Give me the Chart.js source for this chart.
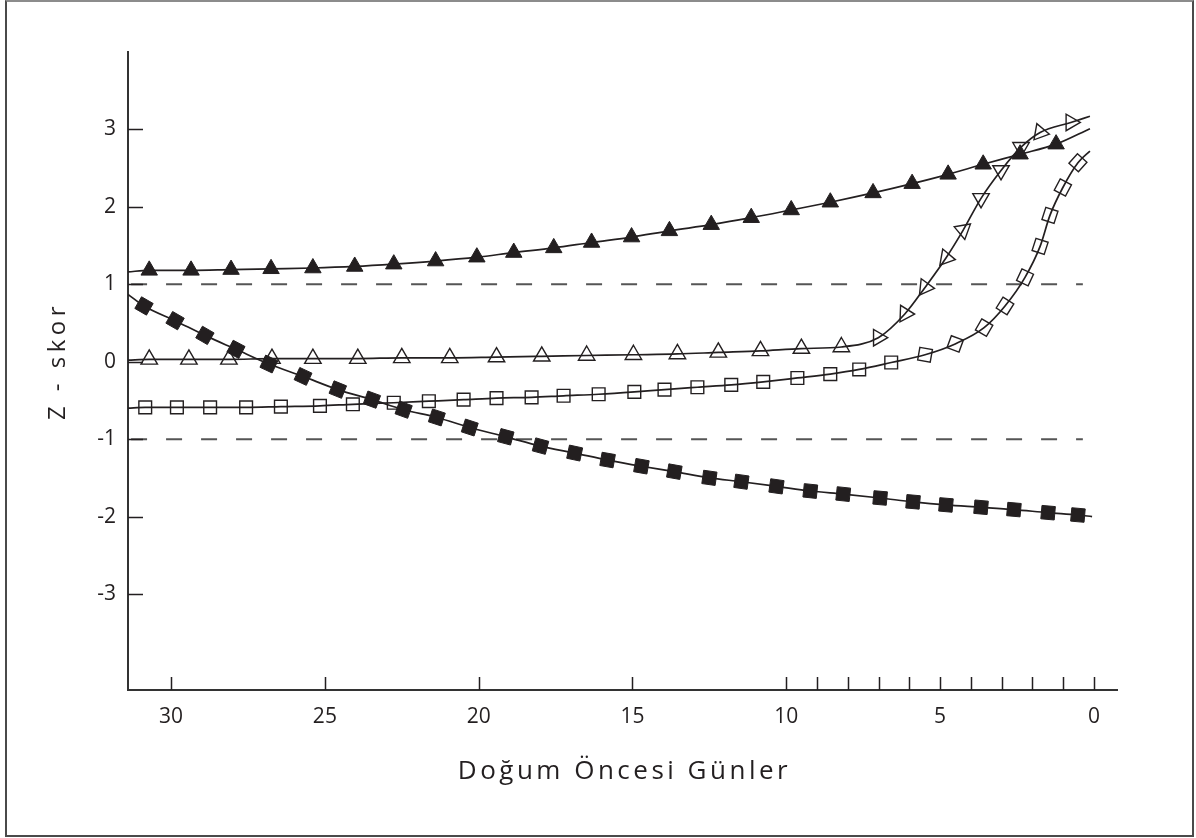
<!DOCTYPE html>
<html>
<head>
<meta charset="UTF-8">
<title>Z - skor</title>
<style>
body{
	margin: 0;
	background-color: #ffffff;
}
.frame{
	position: absolute;
	left: 5px; top: 0;
	width: 1189px; height: 837px;
	box-sizing: border-box;
	border: 2px solid #4a4a4a;
	border-top-color: #8c8c8c;
}
.wrap{
	position: absolute;
	left: 0; top: 0;
	width: 1196px; height: 838px;
}
</style>
</head>
<body>
<div class="frame"></div>
<div class="wrap"><canvas id="myChart"></canvas></div>

<script src="https://cdn.jsdelivr.net/npm/chart.js"></script>
<script>
// axis ticks
const xTickDays = [30, 25, 20, 15, 10, 9, 8, 7, 6, 5, 4, 3, 2, 1, 0];
const yTickValues = [3, 2, 1, 0, -1, -2, -3];

// filled triangles
const triFilledDays = [30.71, 29.35, 28.05, 26.75, 25.39, 24.03, 22.76, 21.40, 20.06, 18.86, 17.56, 16.33, 15.03, 13.80, 12.44, 11.14, 9.84, 8.57, 7.18, 5.91, 4.74, 3.60, 2.40, 1.23];
const triFilledZ    = [1.18, 1.18, 1.19, 1.20, 1.21, 1.23, 1.26, 1.30, 1.35, 1.41, 1.47, 1.54, 1.61, 1.69, 1.77, 1.86, 1.96, 2.06, 2.18, 2.30, 2.42, 2.55, 2.68, 2.81];
const triFilledEnds = [[31.4, 1.16], [0.13, 3.01]];

// open triangles
const triOpenDays = [30.71, 29.42, 28.12, 26.72, 25.39, 23.93, 22.50, 20.94, 19.42, 17.95, 16.49, 14.97, 13.54, 12.21, 10.84, 9.51, 8.21, 7.01, 6.14, 5.49, 4.81, 4.25, 3.67, 3.02, 2.37, 1.75, 0.75];
const triOpenZ    = [0.03, 0.03, 0.03, 0.04, 0.04, 0.04, 0.05, 0.05, 0.06, 0.07, 0.08, 0.09, 0.10, 0.12, 0.14, 0.17, 0.19, 0.31, 0.62, 0.96, 1.34, 1.70, 2.11, 2.47, 2.77, 2.96, 3.09];
const triOpenEnds = [[31.4, 0.02], [0.13, 3.17]];

// open squares
const sqOpenDays = [30.84, 29.81, 28.73, 27.56, 26.43, 25.16, 24.09, 22.76, 21.62, 20.49, 19.42, 18.28, 17.24, 16.10, 14.94, 13.96, 12.89, 11.79, 10.75, 9.64, 8.57, 7.63, 6.59, 5.49, 4.51, 3.57, 2.89, 2.24, 1.75, 1.43, 1.01, 0.52];
const sqOpenZ    = [-0.59, -0.59, -0.59, -0.59, -0.58, -0.57, -0.55, -0.53, -0.51, -0.49, -0.47, -0.46, -0.44, -0.42, -0.39, -0.36, -0.33, -0.30, -0.26, -0.21, -0.16, -0.10, -0.01, 0.09, 0.23, 0.44, 0.72, 1.09, 1.49, 1.89, 2.25, 2.57];
const sqOpenEnds = [[31.4, -0.60], [0.13, 2.72]];

// filled squares
const sqFilledDays = [30.88, 29.87, 28.90, 27.89, 26.82, 25.71, 24.58, 23.47, 22.44, 21.36, 20.29, 19.12, 17.99, 16.88, 15.81, 14.71, 13.64, 12.50, 11.46, 10.32, 9.22, 8.15, 6.95, 5.88, 4.81, 3.67, 2.60, 1.49, 0.52];
const sqFilledZ    = [0.72, 0.53, 0.34, 0.16, -0.03, -0.19, -0.36, -0.49, -0.62, -0.72, -0.85, -0.97, -1.09, -1.18, -1.27, -1.35, -1.42, -1.50, -1.55, -1.61, -1.67, -1.71, -1.76, -1.81, -1.85, -1.88, -1.91, -1.95, -1.98];
const sqFilledEnds = [[31.4, 0.87], [0.06, -2.00]];

// dashed reference lines at +1 / -1
const refDays = [31.3, 0.36];
const refUpper = [1, 1];
const refLower = [-1, -1];

// marker turn (degrees) - style only
const triOpenTurn = [0,0,0,0,0,0,0,0,0,0,0,0,0,0,0,0,0, 90, 92, 96, 100, 170, 180, 180, 180, 100, 90];
const sqOpenTurn = [0,0,0,0,0,0,0,0,0,0,0,0,0,0,0,0,0,0,0,0,0,0,0, 10, 20, 30, 32, 25, 18, 18, 28, 42];
const sqFilledTurn = [30,30,30,28,25,25,22,20,20,18,18,15,15,12,10,10,10,8,8,8,6,6,5,5,5,5,5,5,5];

const ink = '#231f20';

function pts(days, z){
	return days.map((d, i) => ({x: d, y: z[i]}));
}
function curve(days, z, ends){
	return [{x: ends[0][0], y: ends[0][1]}].concat(pts(days, z), [{x: ends[1][0], y: ends[1][1]}]);
}

const insideTicks = {
	id: 'insideTicks',
	afterDatasetsDraw(chart){
		const ctx = chart.ctx;
		const xs = chart.scales.x, ys = chart.scales.y;
		ctx.save();
		ctx.strokeStyle = ink;
		ctx.lineWidth = 1.5;
		ctx.beginPath();
		xTickDays.forEach(function(d){
			const px = Math.round(xs.getPixelForValue(d)) + 0.5;
			ctx.moveTo(px, ys.bottom);
			ctx.lineTo(px, ys.bottom - 13);
		});
		yTickValues.forEach(function(v){
			const py = Math.round(ys.getPixelForValue(v)) + 0.5;
			ctx.moveTo(xs.left, py);
			ctx.lineTo(xs.left + 15, py);
		});
		ctx.stroke();

		// axis titles
		const a = chart.chartArea;
		ctx.fillStyle = ink;
		ctx.textAlign = 'center';
		ctx.textBaseline = 'alphabetic';
		ctx.font = '26px "Open Sans"';
		ctx.letterSpacing = '3.5px';
		ctx.fillText('Doğum Öncesi Günler', (a.left + a.right) / 2 + 2, a.bottom + 89);

		ctx.translate(a.left - 63, (a.top + a.bottom) / 2 - 10);
		ctx.rotate(-Math.PI / 2);
		ctx.font = '24px "Open Sans"';
		ctx.letterSpacing = '4.5px';
		ctx.fillText('Z - skor', 0, 0);
		ctx.restore();
	}
};

const ctx = document.getElementById('myChart').getContext('2d');
const chart = new Chart(ctx, {
	type: 'scatter',
	data: {
		datasets: [
			{ // filled triangles
				data: pts(triFilledDays, triFilledZ),
				pointStyle: 'triangle', pointRadius: 9.5,
				pointBackgroundColor: ink, pointBorderColor: ink, pointBorderWidth: 1
			},
			{ // open triangles
				data: pts(triOpenDays, triOpenZ),
				pointStyle: 'triangle', pointRadius: 9.5, pointRotation: triOpenTurn,
				pointBackgroundColor: 'rgba(0,0,0,0)', pointBorderColor: ink, pointBorderWidth: 1.4
			},
			{ // open squares
				data: pts(sqOpenDays, sqOpenZ),
				pointStyle: 'rect', pointRadius: 9, pointRotation: sqOpenTurn,
				pointBackgroundColor: 'rgba(0,0,0,0)', pointBorderColor: ink, pointBorderWidth: 1.4
			},
			{ // filled squares
				data: pts(sqFilledDays, sqFilledZ),
				pointStyle: 'rect', pointRadius: 9.5, pointRotation: sqFilledTurn,
				pointBackgroundColor: ink, pointBorderColor: ink, pointBorderWidth: 1
			},
			{ data: curve(triFilledDays, triFilledZ, triFilledEnds), showLine: true, pointRadius: 0, borderColor: ink, borderWidth: 1.7, cubicInterpolationMode: 'monotone' },
			{ data: curve(triOpenDays, triOpenZ, triOpenEnds), showLine: true, pointRadius: 0, borderColor: ink, borderWidth: 1.7, cubicInterpolationMode: 'monotone' },
			{ data: curve(sqOpenDays, sqOpenZ, sqOpenEnds), showLine: true, pointRadius: 0, borderColor: ink, borderWidth: 1.7, cubicInterpolationMode: 'monotone' },
			{ data: curve(sqFilledDays, sqFilledZ, sqFilledEnds), showLine: true, pointRadius: 0, borderColor: ink, borderWidth: 1.7, cubicInterpolationMode: 'monotone' },
			{ data: pts(refDays, refUpper), showLine: true, pointRadius: 0, borderColor: '#555555', borderWidth: 2, borderDash: [16, 19] },
			{ data: pts(refDays, refLower), showLine: true, pointRadius: 0, borderColor: '#555555', borderWidth: 2, borderDash: [16, 19] }
		]
	},
	options: {
		responsive: true,
		maintainAspectRatio: false,
		animation: false,
		events: [],
		layout: { padding: { left: 0, top: 52, right: 79, bottom: 0 } },
		plugins: { legend: { display: false }, tooltip: { enabled: false } },
		scales: {
			x: {
				type: 'linear', reverse: true, min: -0.75, max: 31.4,
				grid: { display: false, drawTicks: false },
				border: { display: true, color: '#333333', width: 2 },
				afterBuildTicks: function(scale){ scale.ticks = xTickDays.map(v => ({value: v})); },
				afterFit: function(scale){ scale.height = 148; },
				ticks: {
					autoSkip: false, maxRotation: 0, padding: 14, color: ink,
					font: { family: 'Open Sans', size: 21 },
					callback: function(v){ return v % 5 === 0 ? String(v) : ''; }
				}
			},
			y: {
				type: 'linear', min: -4.24, max: 4.0,
				grid: { display: false, drawTicks: false },
				border: { display: true, color: '#333333', width: 2 },
				afterBuildTicks: function(scale){ scale.ticks = yTickValues.map(v => ({value: v})); },
				afterFit: function(scale){ scale.width = 128; },
				ticks: {
					padding: 12, color: ink,
					font: { family: 'Open Sans', size: 21 },
					callback: function(v){ return String(v); }
				}
			}
		}
	},
	plugins: [insideTicks]
});
</script>
</body>
</html>
